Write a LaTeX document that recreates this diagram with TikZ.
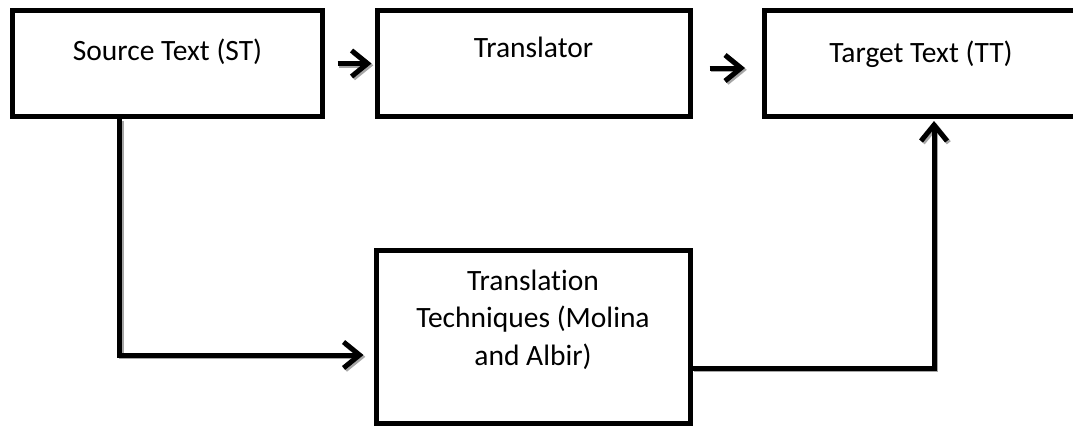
\documentclass[tikz,border=0pt]{standalone}
\usepackage{fontspec}
\setmainfont{Carlito}[Ligatures=NoCommon]
\usetikzlibrary{arrows.meta}
\begin{document}
\begin{tikzpicture}[x=1pt,y=-1pt,
  box/.style={draw, line width=5pt, rectangle, inner sep=0pt, fill=white},
  lbl/.style={font=\fontsize{29.5}{37.5}\selectfont, align=center, anchor=base, inner sep=0pt},
  conn/.style={line width=5pt, -{Straight Barb[length=16pt,width=26pt,line width=5pt]}},
  shadowc/.style={conn, draw=black!35},
]
\path[use as bounding box, fill=white] (0,0) rectangle (1073,426);

\node[box, minimum width=310pt, minimum height=106pt] (st) at (167.5,63.5) {};
\node[box, minimum width=313pt, minimum height=106pt] (tr) at (533.5,63.5) {};
\node[box, minimum width=313pt, minimum height=106pt] (tt) at (921,63.5) {};
\node[box, minimum width=314pt, minimum height=173pt] (tech) at (533,337) {};

\node[lbl] (stl) at (167.5,60) {Source Text (ST)};
\node[lbl] (trl) at (533.5,57) {Translator};
\node[lbl] (ttl) at (921,62) {Target Text (TT)};
\node[lbl] (techl) at (533,365) {Translation\\Techniques (Molina\\and Albir)};

\begin{scope}[transform canvas={shift={(1.8pt,-1.8pt)}}]
\draw[shadowc, shorten <=12.5pt, shorten >=3pt] (st.east) -- (tr.west);
\draw[shadowc, shorten <=17pt, shorten >=17pt] ([yshift=-4.5pt]tr.east) -- ([yshift=-4.5pt]tt.west);
\draw[shadowc, shorten >=10pt] ([xshift=-48pt]st.south) |- ([yshift=-18pt]tech.west);
\draw[shadowc, shorten >=2pt] ([yshift=-31pt]tech.east) -| ([xshift=13pt]tt.south);
\end{scope}
\draw[conn, shorten <=12.5pt, shorten >=3pt] (st.east) -- (tr.west);
\draw[conn, shorten <=17pt, shorten >=17pt] ([yshift=-4.5pt]tr.east) -- ([yshift=-4.5pt]tt.west);
\draw[conn, shorten >=10pt] ([xshift=-48pt]st.south) |- ([yshift=-18pt]tech.west);
\draw[conn, shorten >=2pt] ([yshift=-31pt]tech.east) -| ([xshift=13pt]tt.south);
\end{tikzpicture}
\end{document}
